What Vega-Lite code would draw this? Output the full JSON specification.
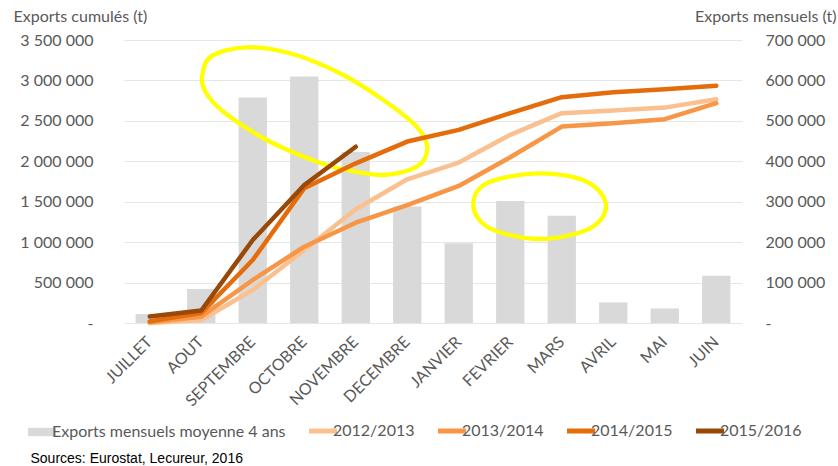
{
  "$schema": "https://vega.github.io/schema/vega-lite/v6.json",
  "width": 618,
  "height": 283,
  "autosize": {"type": "none"},
  "padding": {"left": 124, "top": 40, "right": 96, "bottom": 143},
  "background": "white",
  "config": {
    "view": {"stroke": null},
    "font": "Lato",
    "axis": {"labelFont": "Lato", "titleFont": "Lato", "labelColor": "#595959", "titleColor": "#595959", "labelFontSize": 16, "titleFontSize": 16, "titleFontWeight": "normal"}
  },
  "datasets": {
    "bars": [
      {"mois": "JUILLET", "exports": 22000},
      {"mois": "AOUT", "exports": 84000},
      {"mois": "SEPTEMBRE", "exports": 558000},
      {"mois": "OCTOBRE", "exports": 610000},
      {"mois": "NOVEMBRE", "exports": 423000},
      {"mois": "DECEMBRE", "exports": 288000},
      {"mois": "JANVIER", "exports": 197000},
      {"mois": "FEVRIER", "exports": 302000},
      {"mois": "MARS", "exports": 265000},
      {"mois": "AVRIL", "exports": 51000},
      {"mois": "MAI", "exports": 36000},
      {"mois": "JUIN", "exports": 117000}
    ],
    "lines": [
      {"mois": "JUILLET", "saison": "2012/2013", "cumul": 0},
      {"mois": "AOUT", "saison": "2012/2013", "cumul": 37000},
      {"mois": "SEPTEMBRE", "saison": "2012/2013", "cumul": 408000},
      {"mois": "OCTOBRE", "saison": "2012/2013", "cumul": 903000},
      {"mois": "NOVEMBRE", "saison": "2012/2013", "cumul": 1406000},
      {"mois": "DECEMBRE", "saison": "2012/2013", "cumul": 1777000},
      {"mois": "JANVIER", "saison": "2012/2013", "cumul": 1984000},
      {"mois": "FEVRIER", "saison": "2012/2013", "cumul": 2327000},
      {"mois": "MARS", "saison": "2012/2013", "cumul": 2595000},
      {"mois": "AVRIL", "saison": "2012/2013", "cumul": 2627000},
      {"mois": "MAI", "saison": "2012/2013", "cumul": 2664000},
      {"mois": "JUIN", "saison": "2012/2013", "cumul": 2768000},
      {"mois": "JUILLET", "saison": "2013/2014", "cumul": 10000},
      {"mois": "AOUT", "saison": "2013/2014", "cumul": 78000},
      {"mois": "SEPTEMBRE", "saison": "2013/2014", "cumul": 532000},
      {"mois": "OCTOBRE", "saison": "2013/2014", "cumul": 944000},
      {"mois": "NOVEMBRE", "saison": "2013/2014", "cumul": 1240000},
      {"mois": "DECEMBRE", "saison": "2013/2014", "cumul": 1459000},
      {"mois": "JANVIER", "saison": "2013/2014", "cumul": 1695000},
      {"mois": "FEVRIER", "saison": "2013/2014", "cumul": 2050000},
      {"mois": "MARS", "saison": "2013/2014", "cumul": 2429000},
      {"mois": "AVRIL", "saison": "2013/2014", "cumul": 2471000},
      {"mois": "MAI", "saison": "2013/2014", "cumul": 2521000},
      {"mois": "JUIN", "saison": "2013/2014", "cumul": 2719000},
      {"mois": "JUILLET", "saison": "2014/2015", "cumul": 20000},
      {"mois": "AOUT", "saison": "2014/2015", "cumul": 124000},
      {"mois": "SEPTEMBRE", "saison": "2014/2015", "cumul": 779000},
      {"mois": "OCTOBRE", "saison": "2014/2015", "cumul": 1666000},
      {"mois": "NOVEMBRE", "saison": "2014/2015", "cumul": 1975000},
      {"mois": "DECEMBRE", "saison": "2014/2015", "cumul": 2244000},
      {"mois": "JANVIER", "saison": "2014/2015", "cumul": 2388000},
      {"mois": "FEVRIER", "saison": "2014/2015", "cumul": 2595000},
      {"mois": "MARS", "saison": "2014/2015", "cumul": 2793000},
      {"mois": "AVRIL", "saison": "2014/2015", "cumul": 2855000},
      {"mois": "MAI", "saison": "2014/2015", "cumul": 2892000},
      {"mois": "JUIN", "saison": "2014/2015", "cumul": 2933000},
      {"mois": "JUILLET", "saison": "2015/2016", "cumul": 80000},
      {"mois": "AOUT", "saison": "2015/2016", "cumul": 155000},
      {"mois": "SEPTEMBRE", "saison": "2015/2016", "cumul": 1026000},
      {"mois": "OCTOBRE", "saison": "2015/2016", "cumul": 1707000},
      {"mois": "NOVEMBRE", "saison": "2015/2016", "cumul": 2180000}
    ],
    "ellipses": [
      {"e": 1, "i": 1, "ex": 1.52, "ey": 3060000},
      {"e": 1, "i": 2, "ex": 1.70, "ey": 3300000},
      {"e": 1, "i": 3, "ex": 2.383, "ey": 3409700},
      {"e": 1, "i": 4, "ex": 3.223, "ey": 3335500},
      {"e": 1, "i": 5, "ex": 4.194, "ey": 3088200},
      {"e": 1, "i": 6, "ex": 5.035, "ey": 2758000},
      {"e": 1, "i": 7, "ex": 5.683, "ey": 2427700},
      {"e": 1, "i": 8, "ex": 5.889, "ey": 2160600},
      {"e": 1, "i": 9, "ex": 5.683, "ey": 1933000},
      {"e": 1, "i": 10, "ex": 5.035, "ey": 1830400},
      {"e": 1, "i": 11, "ex": 4.324, "ey": 1892200},
      {"e": 1, "i": 12, "ex": 3.742, "ey": 1994900},
      {"e": 1, "i": 13, "ex": 2.771, "ey": 2263300},
      {"e": 1, "i": 14, "ex": 1.928, "ey": 2613300},
      {"e": 1, "i": 15, "ex": 1.58, "ey": 2860000},
      {"e": 2, "i": 1, "ex": 6.783, "ey": 1447000},
      {"e": 2, "i": 2, "ex": 7.043, "ey": 1727700},
      {"e": 2, "i": 3, "ex": 8.064, "ey": 1851400},
      {"e": 2, "i": 4, "ex": 8.984, "ey": 1747500},
      {"e": 2, "i": 5, "ex": 9.359, "ey": 1459400},
      {"e": 2, "i": 6, "ex": 9.049, "ey": 1171200},
      {"e": 2, "i": 7, "ex": 8.064, "ey": 1038900},
      {"e": 2, "i": 8, "ex": 7.107, "ey": 1171200}
    ]
  },
  "layer": [
    {
      "data": {"name": "bars"},
      "mark": {"type": "bar"},
      "encoding": {
        "x": {
          "field": "mois", "type": "nominal",
          "sort": ["JUILLET", "AOUT", "SEPTEMBRE", "OCTOBRE", "NOVEMBRE", "DECEMBRE", "JANVIER", "FEVRIER", "MARS", "AVRIL", "MAI", "JUIN"],
          "scale": {"paddingInner": 0.45, "paddingOuter": 0.225},
          "axis": {
            "orient": "bottom", "domain": false, "ticks": false, "grid": false,
            "labelAngle": -45, "labelAlign": "right", "labelBaseline": "middle", "labelPadding": 16,
            "title": "Sources: Eurostat, Lecureur, 2016",
            "titleFont": "Liberation Sans", "titleFontSize": 14, "titleColor": "#000000",
            "titleX": -94, "titleY": 139, "titleAlign": "left", "titleBaseline": "alphabetic", "titleAngle": 0
          }
        },
        "y": {
          "field": "exports", "type": "quantitative",
          "scale": {"domain": [0, 700000], "nice": false},
          "axis": {
            "orient": "right", "domain": false, "ticks": false, "grid": false,
            "values": [0, 100000, 200000, 300000, 400000, 500000, 600000, 700000],
            "labelExpr": "datum.value == 0 ? '-' : replace(format(datum.value, ','), /,/g, ' ')",
            "labelPadding": 23, "labelAlign": "left",
            "title": "Exports mensuels (t)", "titleAngle": 0, "titleX": 94, "titleY": -19,
            "titleAlign": "right", "titleBaseline": "alphabetic"
          }
        },
        "color": {
          "datum": "Exports mensuels moyenne 4 ans",
          "title": null,
          "scale": {
            "domain": ["Exports mensuels moyenne 4 ans", "2012/2013", "2013/2014", "2014/2015", "2015/2016"],
            "range": ["#D9D9D9", "#FAC090", "#F79646", "#E46C0A", "#984807"]
          },
          "legend": {
            "orient": "none", "legendX": -90, "legendY": 383, "direction": "horizontal",
            "title": null, "padding": 0, "symbolSize": 784, "labelOffset": 2, "columnPadding": 13,
            "labelFont": "Lato", "labelFontSize": 16, "labelColor": "#595959", "labelLimit": 500,
            "encode": {
              "symbols": {
                "update": {
                  "shape": {"signal": "datum.value === 'Exports mensuels moyenne 4 ans' ? 'M-1,-0.3H1V0.3H-1Z' : 'stroke'"},
                  "fill": {"scale": "color", "field": "value"},
                  "stroke": {"scale": "color", "field": "value"},
                  "strokeWidth": {"signal": "datum.value === 'Exports mensuels moyenne 4 ans' ? 0 : 5"},
                  "opacity": {"value": 1},
                  "fillOpacity": {"value": 1},
                  "strokeOpacity": {"value": 1}
                }
              }
            }
          }
        }
      }
    },
    {
      "data": {"name": "ellipses"},
      "mark": {"type": "line", "interpolate": "cardinal-closed", "stroke": "#FFFF00", "strokeWidth": 4.3},
      "encoding": {
        "x": {"field": "ex", "type": "quantitative", "scale": {"domain": [0, 12], "nice": false, "zero": false}, "axis": null},
        "y": {"field": "ey", "type": "quantitative", "scale": {"domain": [0, 3500000], "nice": false}, "axis": null},
        "detail": {"field": "e", "type": "nominal"},
        "order": {"field": "i", "type": "quantitative"}
      }
    },
    {
      "data": {"name": "lines"},
      "mark": {"type": "line", "strokeWidth": 4.5, "strokeCap": "round", "strokeJoin": "round"},
      "encoding": {
        "x": {
          "field": "mois", "type": "nominal",
          "sort": ["JUILLET", "AOUT", "SEPTEMBRE", "OCTOBRE", "NOVEMBRE", "DECEMBRE", "JANVIER", "FEVRIER", "MARS", "AVRIL", "MAI", "JUIN"],
          "scale": {"padding": 0.5},
          "axis": null
        },
        "y": {
          "field": "cumul", "type": "quantitative",
          "scale": {"domain": [0, 3500000], "nice": false},
          "axis": {
            "orient": "left", "domain": false, "ticks": false, "grid": true, "gridColor": "#E6E6E6", "gridWidth": 1,
            "values": [0, 500000, 1000000, 1500000, 2000000, 2500000, 3000000, 3500000],
            "labelExpr": "datum.value == 0 ? '-' : replace(format(datum.value, ','), /,/g, ' ')",
            "labelPadding": 31,
            "title": "Exports cumulés (t)", "titleAngle": 0, "titleX": -111, "titleY": -19,
            "titleAlign": "left", "titleBaseline": "alphabetic"
          }
        },
        "color": {"field": "saison", "type": "nominal", "title": null}
      }
    }
  ],
  "resolve": {"scale": {"x": "independent", "y": "independent"}}
}
